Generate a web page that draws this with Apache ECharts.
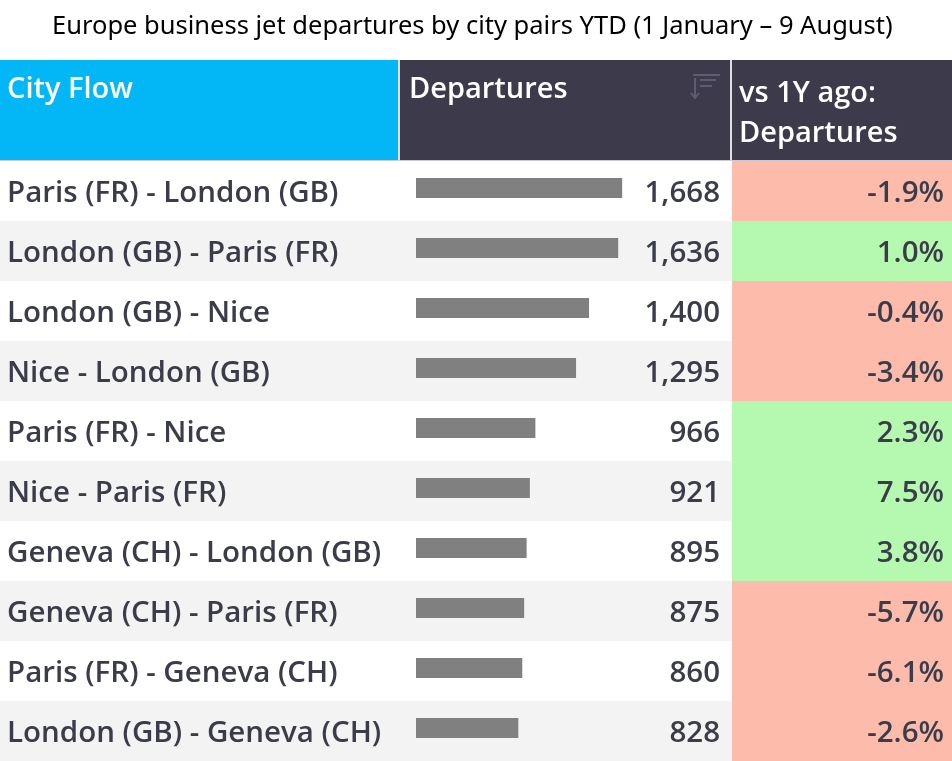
<!DOCTYPE html>
<html>
<head>
<meta charset="utf-8">
<script src="https://cdn.jsdelivr.net/npm/echarts@6/dist/echarts.min.js"></script>
<style>
  html, body { margin: 0; padding: 0; background: #fff; }
  #chart { width: 952px; height: 761px; }
</style>
</head>
<body>
<div id="chart"></div>
<script>
const cities = [
  "Paris (FR) - London (GB)",
  "London (GB) - Paris (FR)",
  "London (GB) - Nice",
  "Nice - London (GB)",
  "Paris (FR) - Nice",
  "Nice - Paris (FR)",
  "Geneva (CH) - London (GB)",
  "Geneva (CH) - Paris (FR)",
  "Paris (FR) - Geneva (CH)",
  "London (GB) - Geneva (CH)"
];
const departures = [1668, 1636, 1400, 1295, 966, 921, 895, 875, 860, 828];
const vsLastYear = [-1.9, 1.0, -0.4, -3.4, 2.3, 7.5, 3.8, -5.7, -6.1, -2.6];

const titleText = "Europe business jet departures by city pairs YTD (1 January \u2013 9 August)";
const textColor = "#3b3c4a";
const headerDark = "#3d3a4c";
const font = "Open Sans";
// cell text, nudged down a little inside each row
const cellRich = { t: { color: textColor, fontFamily: font, fontSize: 29.5, fontWeight: 600, padding: [5, 0, 0, 0] } };
const wrap = s => "{t|" + s + "}";
const headFont = "600 29px 'Open Sans'";

const chart = echarts.init(document.getElementById("chart"));

chart.setOption({
  animation: false,
  backgroundColor: "#fff",
  title: {
    text: titleText,
    left: 47,
    top: 9,
    textStyle: { fontFamily: "Noto Sans", fontSize: 25.5, fontWeight: "normal", color: "#000" }
  },
  grid: [
    // full width rows, city names and departure numbers
    { left: 0, right: 0, top: 161, height: 600 },
    // departures bars
    { left: 416, right: 227, top: 158, height: 600 },
    // change cells
    { left: 732, right: 0, top: 161, height: 600 }
  ],
  xAxis: [
    { gridIndex: 0, type: "value", min: 0, max: 1, show: false },
    { gridIndex: 1, type: "value", min: 0, max: 2500, show: false },
    { gridIndex: 2, type: "value", min: 0, max: 1, show: false }
  ],
  yAxis: [
    {
      gridIndex: 0, type: "category", data: cities, inverse: true,
      axisLine: { show: false }, axisTick: { show: false },
      splitArea: { show: true, areaStyle: { color: ["#ffffff", "#f3f3f3"] } },
      axisLabel: { inside: true, margin: 7, formatter: v => wrap(v), rich: cellRich }
    },
    {
      gridIndex: 0, type: "category", data: cities, inverse: true,
      position: "right", offset: -232,
      axisLine: { show: false }, axisTick: { show: false },
      axisLabel: {
        inside: true, margin: 0, rich: cellRich,
        formatter: (v, i) => wrap(departures[i].toLocaleString("en-US"))
      }
    },
    { gridIndex: 1, type: "category", data: cities, inverse: true, show: false },
    { gridIndex: 2, type: "category", data: cities, inverse: true, show: false }
  ],
  series: [
    {
      type: "bar",
      xAxisIndex: 1, yAxisIndex: 2,
      data: departures,
      barWidth: 20,
      itemStyle: { color: "#808080" },
      silent: true
    },
    {
      type: "bar",
      xAxisIndex: 2, yAxisIndex: 3,
      barWidth: "100%",
      data: vsLastYear.map(v => ({
        value: 1,
        pct: v,
        itemStyle: { color: v < 0 ? "#fdbcab" : "#b5f9b1" }
      })),
      label: {
        show: true,
        position: "insideRight",
        distance: 8,
        rich: cellRich,
        formatter: p => wrap(p.data.pct.toFixed(1) + "%")
      },
      silent: true
    }
  ],
  graphic: [
    { type: "rect", shape: { x: 0, y: 60, width: 398, height: 100 }, style: { fill: "#03b6f6" } },
    { type: "rect", shape: { x: 400, y: 60, width: 330, height: 100 }, style: { fill: headerDark } },
    { type: "rect", shape: { x: 732, y: 60, width: 220, height: 100 }, style: { fill: headerDark } },
    { type: "line", shape: { x1: 0, y1: 160.5, x2: 952, y2: 160.5 }, style: { stroke: "#c9c9cf", lineWidth: 1 } },
    { type: "line", shape: { x1: 399, y1: 60, x2: 399, y2: 761 }, style: { stroke: "#d4d4d8", lineWidth: 1.5 } },
    { type: "line", shape: { x1: 731, y1: 60, x2: 731, y2: 761 }, style: { stroke: "#d4d4d8", lineWidth: 1.5 } },
    { type: "text", left: 7, top: 75, style: { text: "City Flow", fill: "#fff", font: headFont } },
    { type: "text", left: 409, top: 75, style: { text: "Departures", fill: "#fff", font: headFont } },
    { type: "text", left: 739, top: 74, style: { text: "vs 1Y ago:\nDepartures", fill: "#fff", font: headFont, lineHeight: 40 } },
    // sort icon
    { type: "line", shape: { x1: 693, y1: 75, x2: 720, y2: 75 }, style: { stroke: "#5e5c73", lineWidth: 2 } },
    { type: "line", shape: { x1: 700, y1: 80, x2: 716, y2: 80 }, style: { stroke: "#5e5c73", lineWidth: 2 } },
    { type: "line", shape: { x1: 700, y1: 86, x2: 712, y2: 86 }, style: { stroke: "#5e5c73", lineWidth: 2 } },
    { type: "line", shape: { x1: 695, y1: 78, x2: 695, y2: 97 }, style: { stroke: "#5e5c73", lineWidth: 2 } },
    { type: "polyline", shape: { points: [[691, 93], [695, 98], [699, 93]] }, style: { stroke: "#5e5c73", lineWidth: 2, fill: null } }
  ]
});
</script>
</body>
</html>
